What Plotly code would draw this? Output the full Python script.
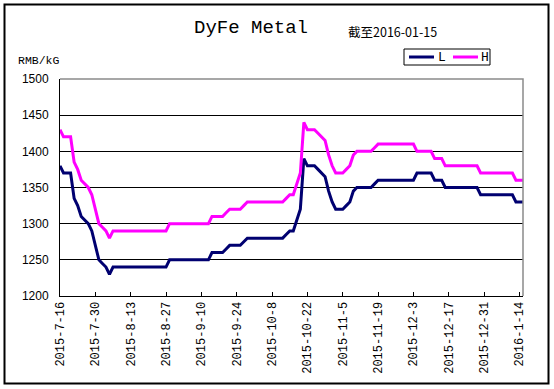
import pandas as pd
import plotly.graph_objects as go

# business-day categories from 2015-07-16 to 2016-01-15
dates = pd.bdate_range("2015-07-16", "2016-01-15")
categories = [f"{d.year}-{d.month}-{d.day}" for d in dates]

L_values = [
    1380, 1370, 1370, 1370, 1335, 1325, 1310, 1305, 1300, 1290,
    1270, 1250, 1245, 1240, 1230, 1240, 1240, 1240, 1240, 1240,
    1240, 1240, 1240, 1240, 1240, 1240, 1240, 1240, 1240, 1240,
    1240, 1250, 1250, 1250, 1250, 1250, 1250, 1250, 1250, 1250,
    1250, 1250, 1250, 1260, 1260, 1260, 1260, 1265, 1270, 1270,
    1270, 1270, 1275, 1280, 1280, 1280, 1280, 1280, 1280, 1280,
    1280, 1280, 1280, 1280, 1285, 1290, 1290, 1305, 1320, 1390,
    1380, 1380, 1380, 1375, 1370, 1365, 1345, 1330, 1320, 1320,
    1320, 1325, 1330, 1345, 1350, 1350, 1350, 1350, 1350, 1355,
    1360, 1360, 1360, 1360, 1360, 1360, 1360, 1360, 1360, 1360,
    1360, 1370, 1370, 1370, 1370, 1370, 1360, 1360, 1360, 1350,
    1350, 1350, 1350, 1350, 1350, 1350, 1350, 1350, 1350, 1340,
    1340, 1340, 1340, 1340, 1340, 1340, 1340, 1340, 1340, 1330,
    1330, 1330,
]

H_values = [
    1430, 1420, 1420, 1420, 1385, 1375, 1360, 1355, 1350, 1340,
    1320, 1300, 1295, 1290, 1280, 1290, 1290, 1290, 1290, 1290,
    1290, 1290, 1290, 1290, 1290, 1290, 1290, 1290, 1290, 1290,
    1290, 1300, 1300, 1300, 1300, 1300, 1300, 1300, 1300, 1300,
    1300, 1300, 1300, 1310, 1310, 1310, 1310, 1315, 1320, 1320,
    1320, 1320, 1325, 1330, 1330, 1330, 1330, 1330, 1330, 1330,
    1330, 1330, 1330, 1330, 1335, 1340, 1340, 1355, 1370, 1440,
    1430, 1430, 1430, 1425, 1420, 1415, 1395, 1380, 1370, 1370,
    1370, 1375, 1380, 1395, 1400, 1400, 1400, 1400, 1400, 1405,
    1410, 1410, 1410, 1410, 1410, 1410, 1410, 1410, 1410, 1410,
    1410, 1400, 1400, 1400, 1400, 1400, 1390, 1390, 1390, 1380,
    1380, 1380, 1380, 1380, 1380, 1380, 1380, 1380, 1380, 1370,
    1370, 1370, 1370, 1370, 1370, 1370, 1370, 1370, 1370, 1360,
    1360, 1360,
]

series_names = ["L", "H"]
series_colors = ["#000070", "#FF00FF"]

tick_step = 10
tick_vals = categories[0:131:tick_step]
y_ticks = [1200, 1250, 1300, 1350, 1400, 1450, 1500]

W, H = 554, 389
ML, MR, MT, MB = 60, 31, 79, 93
pw, ph = W - ML - MR, H - MT - MB


def px(x):
    return (x - ML) / pw


def py(y):
    return (H - MB - y) / ph


fig = go.Figure()
for name, vals, col in zip(series_names, [L_values, H_values], series_colors):
    fig.add_trace(go.Scatter(x=categories, y=vals, mode="lines", name=name,
                             line=dict(color=col, width=3)))

fig.update_layout(
    width=W, height=H,
    margin=dict(l=ML, r=MR, t=MT, b=MB),
    paper_bgcolor="white", plot_bgcolor="white",
    showlegend=False,
    xaxis=dict(type="category", range=[0, len(categories) - 1],
               tickvals=tick_vals, ticktext=tick_vals, tickangle=-90,
               tickfont=dict(family="Liberation Mono", size=12, color="black"),
               showline=True, linecolor="black", linewidth=1,
               ticks="inside", ticklen=4, tickcolor="black",
               showgrid=False, zeroline=False),
    yaxis=dict(range=[1200, 1500], tickvals=y_ticks,
               tickfont=dict(family="Liberation Sans", size=12, color="black"),
               showline=True, linecolor="black", linewidth=1,
               showgrid=True, gridcolor="black", gridwidth=1,
               ticks="", zeroline=False, ticklabelstandoff=8),
)

# plot-area top/right border (gray) and outer frame
fig.add_shape(type="path", xref="paper", yref="paper", path="M 0,1 L 1,1 L 1,0",
              line=dict(color="#8a8a8a", width=1.5), layer="above")
fig.add_shape(type="rect", xref="paper", yref="paper",
              x0=px(4.5), x1=px(548.5), y0=py(383.5), y1=py(4.5),
              line=dict(color="black", width=2), layer="below")

# legend box (drawn manually to match the compact original)
fig.add_shape(type="rect", xref="paper", yref="paper",
              x0=px(404), x1=px(490), y0=py(65), y1=py(49),
              line=dict(color="black", width=1), fillcolor="white", layer="above")
legend_x = [(409, 434, 437), (453, 478, 480)]
for (x0, x1, tx), name, col in zip(legend_x, series_names, series_colors):
    fig.add_shape(type="line", xref="paper", yref="paper",
                  x0=px(x0), x1=px(x1), y0=py(57), y1=py(57),
                  line=dict(color=col, width=3), layer="above")
    fig.add_annotation(text=name, xref="paper", yref="paper",
                       x=px(tx - 1), y=py(57.5), xanchor="left", yanchor="middle",
                       showarrow=False,
                       font=dict(family="Liberation Mono", size=13, color="black"))

fig.add_annotation(text="DyFe Metal", xref="paper", yref="paper",
                   x=px(251), y=py(28), xanchor="center", yanchor="middle",
                   showarrow=False,
                   font=dict(family="Liberation Mono", size=19, color="black"))
fig.add_annotation(text="截至2016-01-15", xref="paper", yref="paper",
                   x=px(346), y=py(31), xanchor="left", yanchor="middle",
                   showarrow=False,
                   font=dict(family="Noto Sans CJK SC", size=12.5, color="black"))
fig.add_annotation(text="RMB/kG", xref="paper", yref="paper",
                   x=px(16), y=py(60), xanchor="left", yanchor="middle",
                   showarrow=False,
                   font=dict(family="Liberation Mono", size=11.5, color="black"))

fig.write_html("out.html", config={"displayModeBar": False},
               post_script="document.body.style.margin='0';document.body.style.overflow='hidden';")
